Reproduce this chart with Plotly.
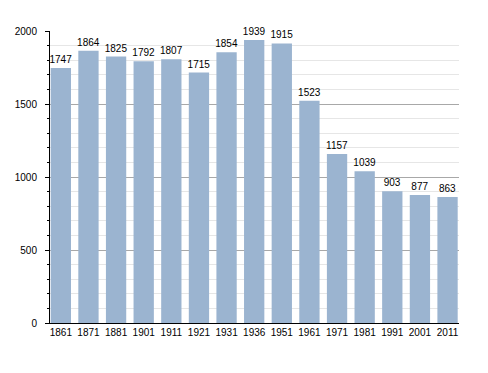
import plotly.graph_objects as go

years = ["1861", "1871", "1881", "1901", "1911", "1921", "1931", "1936",
         "1951", "1961", "1971", "1981", "1991", "2001", "2011"]
population = [1747, 1864, 1825, 1792, 1807, 1715, 1854, 1939,
              1915, 1523, 1157, 1039, 903, 877, 863]

FONT = "Liberation Sans, Arial, sans-serif"

fig = go.Figure()
fig.add_trace(go.Bar(
    x=years,
    y=population,
    width=0.735,
    marker=dict(color="#9bb4d0", line=dict(width=0)),
    text=[str(v) for v in population],
    textposition="outside",
    constraintext="none",
    textangle=0,
    textfont=dict(family=FONT, size=10, color="#000"),
    cliponaxis=False,
))

# page body has an 8px default margin, so the figure is sized to fit the rest
fig.update_layout(
    width=480, height=365,
    margin=dict(l=42, r=29, t=23, b=50, autoexpand=False),
    paper_bgcolor="white",
    plot_bgcolor="white",
    showlegend=False,
    font=dict(family=FONT, size=10, color="#000"),
    xaxis=dict(
        type="category",
        range=[-0.3925, 14.415],
        showgrid=False,
        showline=True, linecolor="#000", linewidth=1,
        ticks="", tickfont=dict(size=10),
        fixedrange=True,
    ),
    yaxis=dict(
        range=[0, 2000],
        tickvals=[0, 500, 1000, 1500, 2000],
        showgrid=True, gridcolor="#a8a8a8", gridwidth=1,
        showline=True, linecolor="#000", linewidth=1,
        ticks="outside", ticklen=4, tickcolor="#000",
        ticklabelstandoff=6,
        tickfont=dict(size=10),
        zeroline=False,
        minor=dict(dtick=100, showgrid=True, gridcolor="#e6e6e6", gridwidth=1,
                   ticks="outside", ticklen=2, tickcolor="#000"),
        fixedrange=True,
    ),
)

fig.write_html("out.html")
